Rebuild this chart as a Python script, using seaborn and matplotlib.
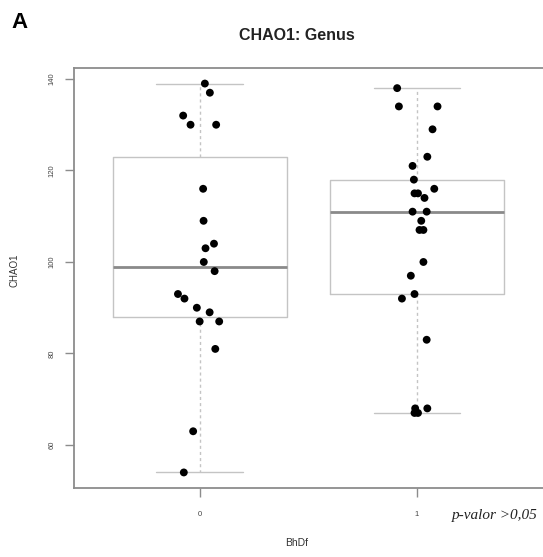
import numpy as np
import pandas as pd
import matplotlib
matplotlib.use("Agg")
import matplotlib.pyplot as plt
import seaborn as sns

# ---- data ----
groups = ["0", "1"]
chao1_g0 = [139, 137, 132, 130, 130, 116, 109, 104, 103, 100, 98,
            93, 92, 90, 89, 87, 87, 81, 63, 54]
jitter_g0 = [0.023, 0.046, -0.077, -0.043, 0.075, 0.015, 0.017, 0.065, 0.026, 0.018, 0.068,
             -0.101, -0.071, -0.014, 0.045, -0.001, 0.089, 0.071, -0.031, -0.074]
chao1_g1 = [138, 134, 134, 129, 123, 121, 118, 116, 115, 115, 114, 111, 111,
            109, 107, 107, 100, 97, 92, 93, 83, 68, 68, 67, 67]
jitter_g1 = [-0.091, -0.083, 0.095, 0.072, 0.048, -0.020, -0.014, 0.080, -0.011, 0.005, 0.035,
             -0.020, 0.045, 0.020, 0.012, 0.030, 0.030, -0.028, -0.069, -0.011, 0.045,
             -0.008, 0.048, -0.011, 0.005]
yticks = [60, 80, 100, 120, 140]

df = pd.DataFrame({
    "BhDf": [0] * len(chao1_g0) + [1] * len(chao1_g1),
    "CHAO1": chao1_g0 + chao1_g1,
    "jit": jitter_g0 + jitter_g1,
})
df["xpos"] = df["BhDf"] + df["jit"]


def fivenum(v):
    v = np.sort(np.asarray(v, float))
    n = len(v)
    n4 = np.floor((n + 3) / 2) / 2
    d = np.array([1, n4, (n + 1) / 2, n + 1 - n4, n]) - 1
    return 0.5 * (v[np.floor(d).astype(int)] + v[np.ceil(d).astype(int)])


sns.set_theme(style="white")
plt.rcParams["font.family"] = ["Liberation Sans", "DejaVu Sans"]

W, H = 543, 557
fig = plt.figure(figsize=(W / 100, H / 100), dpi=100)
ax = fig.add_axes([74 / W, (H - 488) / H, 469 / W, (488 - 68) / H])

box_c = "#c4c4c4"
stats = []
for g in (0, 1):
    lo, q1, med, q3, hi = fivenum(df.loc[df.BhDf == g, "CHAO1"])
    stats.append(dict(whislo=lo, q1=q1, med=med, q3=q3, whishi=hi, fliers=[]))
ax.bxp(stats, positions=[0, 1], widths=0.8, showfliers=False,
       boxprops=dict(color=box_c, linewidth=1.0),
       medianprops=dict(color="#8a8a8a", linewidth=2.0),
       whiskerprops=dict(color=box_c, linewidth=1.0, linestyle=(0, (2.2, 2.2))),
       capprops=dict(color=box_c, linewidth=1.0),
       capwidths=0.4, manage_ticks=False)

sns.scatterplot(data=df, x="xpos", y="CHAO1", ax=ax, color="black", s=32,
                edgecolor="none", legend=False, zorder=3)

ax.set_xlim(-0.58, 1.581)
ax.set_ylim(50.6, 142.4)
ax.set_xticks([0, 1])
ax.set_xticklabels(groups)
ax.set_yticks(yticks)
ax.set_yticklabels([str(t) for t in yticks], rotation=90, va="center")
ax.tick_params(axis="both", which="both", direction="out", length=6.5, width=1,
               color="#8c8c8c", labelsize=5.5, labelcolor="#444444")
ax.tick_params(axis="y", pad=7, left=True)
ax.tick_params(axis="x", pad=10, bottom=True)
for side in ("left", "top", "bottom"):
    ax.spines[side].set_color("#8c8c8c")
    ax.spines[side].set_linewidth(1.3)
ax.spines["right"].set_visible(False)
ax.set_xlabel("")
ax.set_ylabel("")
ax.grid(False)

fig.text(15 / W, 1 - 270 / H, "CHAO1", rotation=90, ha="center", va="center",
         fontsize=7, color="#333333")
fig.text(297 / W, 1 - 543 / H, "BhDf", ha="center", va="center",
         fontsize=7.5, color="#333333")
fig.text(297 / W, 1 - 35 / H, "CHAO1: Genus", ha="center", va="center",
         fontsize=11.5, fontweight="bold", color="#222222")
fig.text(19 / W, 1 - 23 / H, "A", ha="center", va="center",
         fontsize=16, fontweight="bold", color="black")
fig.text(452 / W, 1 - 515 / H, "p-valor >0,05", ha="left", va="center",
         fontsize=11, fontstyle="italic", family=["Liberation Serif", "DejaVu Serif"],
         color="#222222")

fig.savefig("out.png", dpi=100)
